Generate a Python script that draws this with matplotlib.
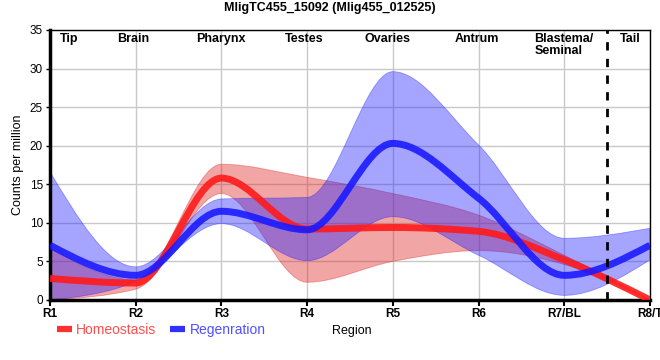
import matplotlib
matplotlib.use("Agg")
import matplotlib.pyplot as plt
import numpy as np
from matplotlib.path import Path
from matplotlib.patches import PathPatch
from matplotlib.lines import Line2D

plt.rcParams['font.family'] = ['Liberation Sans', 'DejaVu Sans']

# region positions along the worm
regions = ["R1", "R2", "R3", "R4", "R5", "R6", "R7/BL", "R8/T"]
tissues = ["Tip", "Brain", "Pharynx", "Testes", "Ovaries", "Antrum", "Blastema/\nSeminal", "Tail"]

# counts per million, mean and band (upper / lower)
homeo_mean = [2.8, 2.2, 15.8, 9.2, 9.4, 8.9, 5.2, 0.0]
homeo_upper = [6.7, 2.6, 17.6, 15.9, 13.8, 11.0, 5.8, 0.0]
homeo_lower = [0.0, 1.4, 13.8, 2.3, 5.0, 6.4, 4.6, 0.0]

regen_mean = [7.1, 3.2, 11.5, 9.1, 20.3, 13.2, 3.2, 7.1]
regen_upper = [16.6, 4.3, 13.1, 13.3, 29.6, 20.1, 8.0, 9.3]
regen_lower = [0.0, 2.4, 9.9, 5.1, 10.8, 5.8, 0.6, 5.2]


def monotone_tangents(x, y):
    # same tangents as d3's curveMonotoneX
    x = np.asarray(x, float)
    y = np.asarray(y, float)
    n = len(x)
    t = np.zeros(n)
    for i in range(1, n - 1):
        h0, h1 = x[i] - x[i - 1], x[i + 1] - x[i]
        s0, s1 = (y[i] - y[i - 1]) / h0, (y[i + 1] - y[i]) / h1
        p = (s0 * h1 + s1 * h0) / (h0 + h1)
        t[i] = (np.sign(s0) + np.sign(s1)) * min(abs(s0), abs(s1), 0.5 * abs(p))
    t[0] = (3 * (y[1] - y[0]) / (x[1] - x[0]) - t[1]) / 2
    t[-1] = (3 * (y[-1] - y[-2]) / (x[-1] - x[-2]) - t[-2]) / 2
    return t


def bezier_segments(x, y):
    t = monotone_tangents(x, y)
    segs = []
    for i in range(len(x) - 1):
        dx = (x[i + 1] - x[i]) / 3
        segs.append([(x[i], y[i]),
                     (x[i] + dx, y[i] + dx * t[i]),
                     (x[i + 1] - dx, y[i + 1] - dx * t[i + 1]),
                     (x[i + 1], y[i + 1])])
    return segs


def curve_path(x, y):
    segs = bezier_segments(x, y)
    verts = [segs[0][0]]
    codes = [Path.MOVETO]
    for s in segs:
        verts += s[1:]
        codes += [Path.CURVE4] * 3
    return Path(verts, codes)


def band_path(x, lo, hi):
    up = bezier_segments(x, hi)
    dn = bezier_segments(x, lo)
    verts = [up[0][0]]
    codes = [Path.MOVETO]
    for s in up:
        verts += s[1:]
        codes += [Path.CURVE4] * 3
    verts.append(dn[-1][3])
    codes.append(Path.LINETO)
    for s in reversed(dn):
        verts += [s[2], s[1], s[0]]
        codes += [Path.CURVE4] * 3
    verts.append(up[0][0])
    codes.append(Path.CLOSEPOLY)
    return Path(verts, codes)


xs = np.arange(len(regions))

fig = plt.figure(figsize=(6.6, 3.6), dpi=100)
ax = fig.add_axes([50 / 660, 60 / 360, 600 / 660, 270 / 360])

red = "#ff1a1a"
blue = "#1a1aff"

ax.add_patch(PathPatch(band_path(xs, homeo_lower, homeo_upper), facecolor="#e02020",
                       alpha=0.4, edgecolor="#e02020", lw=0.6, zorder=2))
ax.add_patch(PathPatch(band_path(xs, regen_lower, regen_upper), facecolor="#2020ff",
                       alpha=0.4, edgecolor="#2020ff", lw=0.6, zorder=2))
ax.add_patch(PathPatch(curve_path(xs, homeo_mean), facecolor="none", edgecolor=red,
                       lw=5, alpha=0.9, capstyle="butt", zorder=3))
ax.add_patch(PathPatch(curve_path(xs, regen_mean), facecolor="none", edgecolor=blue,
                       lw=5, alpha=0.9, capstyle="butt", zorder=3))

# blastema / tail boundary
ax.axvline(6.5, color="black", lw=2, ls=(0, (3, 3)), zorder=4)

ax.set_xlim(0, 7)
ax.set_ylim(0, 35)
ax.set_xticks(xs)
ax.set_xticklabels(regions, fontsize=8.5, fontweight="bold")
ax.set_yticks(np.arange(0, 36, 5))
ax.tick_params(axis="y", labelsize=8.5, length=3, width=1, pad=2)
ax.tick_params(axis="x", length=4, width=1.5, pad=2)
ax.grid(True, color="#c8c8c8", lw=1)
ax.set_axisbelow(True)

for side in ["left", "bottom"]:
    ax.spines[side].set_linewidth(2.5)
for side in ["top", "right"]:
    ax.spines[side].set_linewidth(1)

ax.set_ylabel("Counts per million", fontsize=9, labelpad=4)
fig.text(352 / 660, 1 - 331 / 360, "Region", fontsize=9, ha="center", va="center")

# tissue labels inside the top of the plot
tissue_x = [0.22, 0.97, 1.99, 2.96, 3.94, 4.98, 5.65, 6.77]
for tx, name in zip(tissue_x, tissues):
    ha = "left" if "\n" in name else "center"
    ax.text(tx, 34.6, name, ha=ha, va="top", fontsize=9, fontweight="bold",
            linespacing=1.0, zorder=5)

fig.suptitle("MligTC455_15092 (Mlig455_012525)", fontsize=9, fontweight="bold",
             x=330 / 660, y=1 - 8 / 360, va="center")

handles = [Line2D([0], [0], color="#ff3030", lw=4.5, solid_capstyle="butt"),
           Line2D([0], [0], color="#3030ff", lw=4.5, solid_capstyle="butt")]
leg = fig.legend(handles, ["Homeostasis", "Regenration"], loc="center left",
                 bbox_to_anchor=(44 / 660, 1 - 330 / 360), ncol=2, frameon=False,
                 fontsize=10, handlelength=1.1, handletextpad=0.3, columnspacing=1.0)
leg.get_texts()[0].set_color("#ff4d4d")
leg.get_texts()[1].set_color("#5050ff")

fig.savefig("out.png", dpi=100)
